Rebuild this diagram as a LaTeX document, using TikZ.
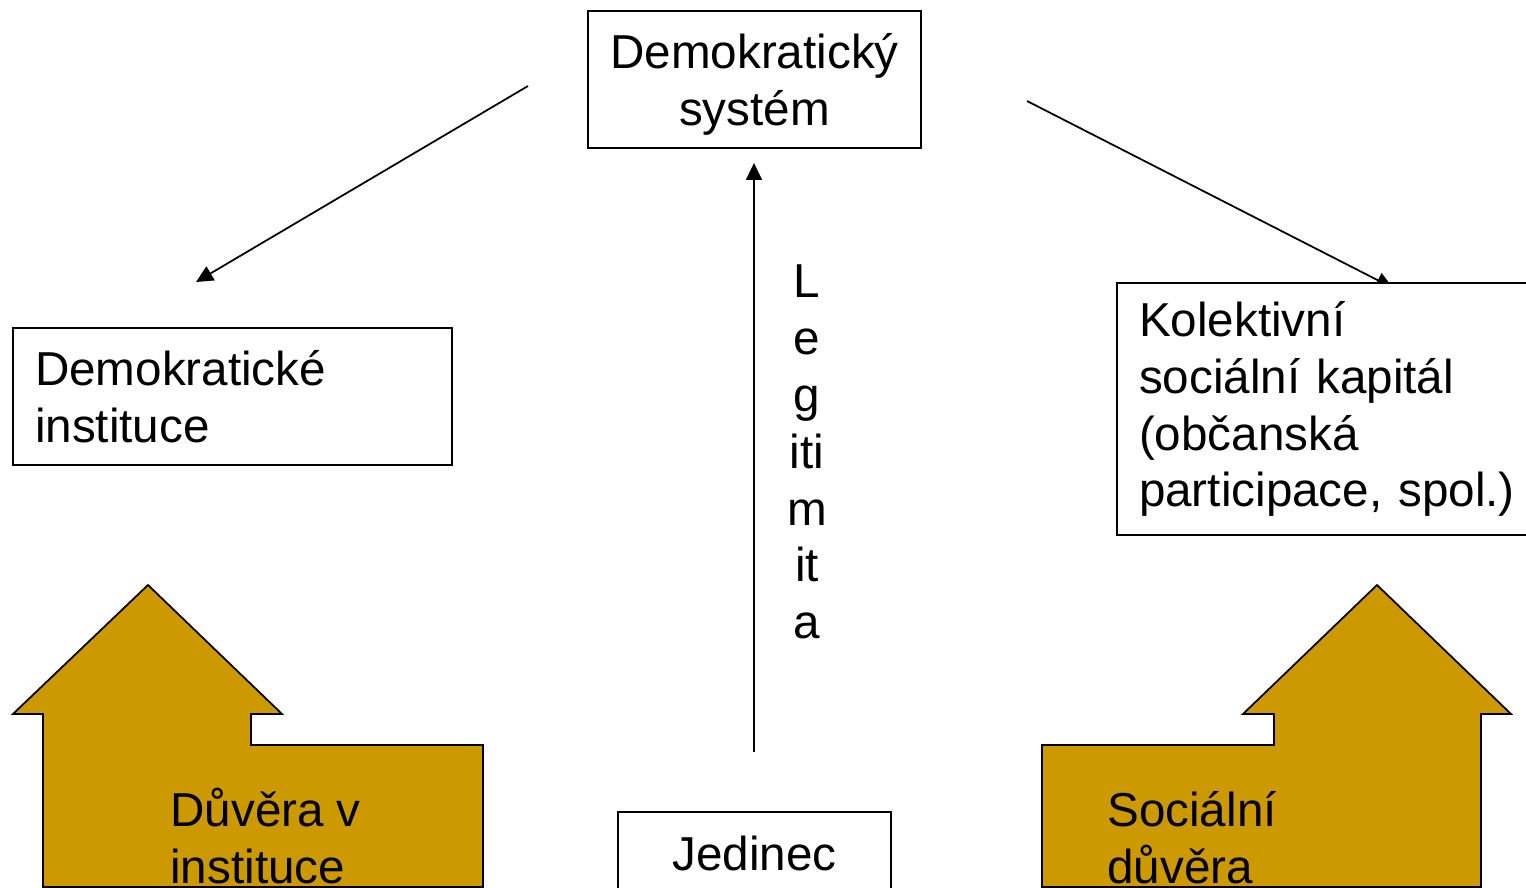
\documentclass[tikz,border=0pt]{standalone}
\usepackage{fontspec}
\setmainfont{Liberation Sans}
\usetikzlibrary{positioning,arrows.meta}
\definecolor{gold}{RGB}{204,153,0}

\begin{document}
\begin{tikzpicture}[x=0.02cm,y=-0.02cm,
  font=\fontsize{27.1}{32.4}\selectfont,
  box/.style={draw,line width=1pt,fill=white,inner sep=0pt},
  house/.style={draw,line width=1pt,fill=gold},
  link/.style={line width=1pt,-{Triangle[length=0.34cm,width=0.32cm]}}]
  \useasboundingbox (0,0) rectangle (1526,888);
  \clip (0,0) rectangle (1526,888);
  % free ends of the arrows
  \coordinate (l0) at (528,86);  \coordinate (l1) at (196,282);
  \coordinate (r0) at (1027,101); \coordinate (r1) at (1393,288);
  \coordinate (c0) at (754,752); \coordinate (c1) at (754,163);
  \draw[link] (l0) -- (l1);
  \draw[link] (r0) -- (r1);
  \draw[link] (c0) -- (c1);
  % boxes
  \node[box,minimum width=6.66cm,minimum height=2.74cm,align=center,
    text depth=0pt] (sys) at (754.5,79.5) {Demokratický\\systém};
  \node[box,inner xsep=0.44cm,text width=7.9cm,minimum height=2.74cm,align=left]
    (inst) at (232.5,396.5) {Demokratické\\instituce};
  \node[box,inner xsep=0.44cm,text width=7.78cm,minimum height=5.04cm,align=left]
    (kap) at (1333.5,409) {Kolektivní\\sociální kapitál\\(občanská\\participace, spol.)};
  \node[box,minimum width=5.46cm,minimum height=1.64cm]
    (jed) at (754.5,853) {Jedinec};
  \node[align=center,inner sep=0pt] (leg) at (807,452)
    {L\\e\\g\\iti\\m\\it\\a};
  % houses
  \draw[house] (148,585) -- (282,714) -- (251,714) -- (251,745) -- (483,745)
    -- (483,887) -- (43,887) -- (43,714) -- (13,714) -- cycle;
  \draw[house] (1377,585) -- (1511,714) -- (1481,714) -- (1481,887)
    -- (1042,887) -- (1042,745) -- (1274,745) -- (1274,714) -- (1243,714) -- cycle;
  \node[anchor=base west,align=left,inner sep=0pt] (duv) at (170,883)
    {Důvěra v\\instituce};
  \node[anchor=base west,align=left,inner sep=0pt] (soc) at (1107,883)
    {Sociální\\důvěra};
\end{tikzpicture}
\end{document}
